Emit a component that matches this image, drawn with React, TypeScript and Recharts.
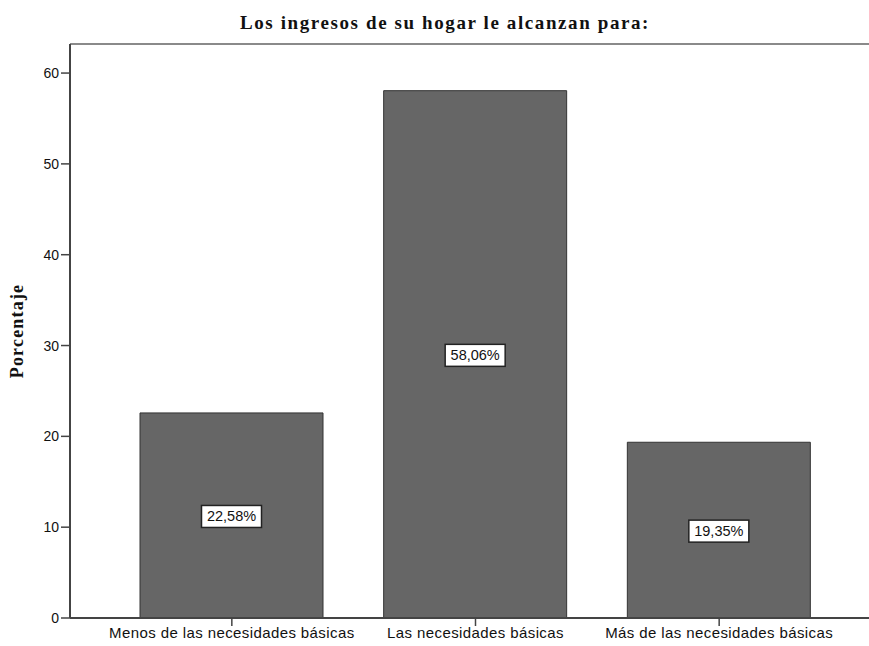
import { Bar, BarChart, LabelList, ReferenceLine, XAxis, YAxis } from "recharts";

const CATEGORIES = [
  "Menos de las necesidades básicas",
  "Las necesidades básicas",
  "Más de las necesidades básicas",
];
const PERCENTAGES = [22.58, 58.06, 19.35];
const Y_TICKS = [0, 10, 20, 30, 40, 50, 60];
const Y_MAX = 63.2;

const data = CATEGORIES.map((name, i) => ({ name, value: PERCENTAGES[i] }));

const SANS = "'Liberation Sans', Arial, sans-serif";
const SERIF = "'Liberation Serif', 'Times New Roman', serif";

// white boxed percentage label in the middle of each bar
function BoxLabel(props: any) {
  const { x, y, width, height, value } = props;
  const cx = x + width / 2;
  const cy = y + height / 2 + 1;
  const text = `${value.toFixed(2).replace(".", ",")}%`;
  const w = 60;
  const h = 22;
  return (
    <g>
      <rect x={cx - w / 2} y={cy - h / 2} width={w} height={h} fill="#fff" stroke="#222" strokeWidth={1.5} />
      <text x={cx} y={cy + 5} textAnchor="middle" fontFamily={SANS} fontSize={14.5} fill="#111">
        {text}
      </text>
    </g>
  );
}

export default function App() {
  return (
    <div style={{ position: "fixed", left: 0, top: 0, width: 869, height: 646, background: "#fff" }}>
      <div
        style={{
          position: "absolute",
          top: 12,
          left: 0,
          width: 890,
          textAlign: "center",
          fontFamily: SERIF,
          fontWeight: "bold",
          fontSize: 19,
          letterSpacing: 1.6,
          color: "#111",
        }}
      >
        Los ingresos de su hogar le alcanzan para:
      </div>
      <BarChart
        width={869}
        height={646}
        data={data}
        margin={{ top: 44, right: 0, bottom: 0, left: 0 }}
      >
        <XAxis
          dataKey="name"
          height={28}
          padding={{ left: 40, right: 28 }}
          interval={0}
          tickLine={{ stroke: "#444", strokeWidth: 1.5 }}
          tickSize={8}
          tickMargin={1}
          axisLine={{ stroke: "#444", strokeWidth: 2 }}
          tick={{ fontFamily: SANS, fontSize: 15, letterSpacing: 0.4, fill: "#111" }}
        />
        <YAxis
          width={70}
          domain={[0, Y_MAX]}
          ticks={Y_TICKS}
          interval={0}
          tickSize={9}
          tickMargin={2}
          tickLine={{ stroke: "#444", strokeWidth: 1.5 }}
          axisLine={{ stroke: "#444", strokeWidth: 2 }}
          tick={{ fontFamily: SANS, fontSize: 14, fill: "#111" }}
          label={{
            value: "Porcentaje",
            angle: -90,
            position: "insideLeft",
            offset: 17,
            style: {
              fontFamily: SERIF,
              fontWeight: "bold",
              fontSize: 18,
              letterSpacing: 1.2,
              fill: "#111",
              textAnchor: "middle",
            },
          }}
        />
        <ReferenceLine y={Y_MAX} stroke="#8a8a8a" strokeWidth={2} />
        <Bar dataKey="value" fill="#666666" stroke="#333" strokeWidth={1} barSize={183} isAnimationActive={false}>
          <LabelList dataKey="value" content={BoxLabel} />
        </Bar>
      </BarChart>
    </div>
  );
}
